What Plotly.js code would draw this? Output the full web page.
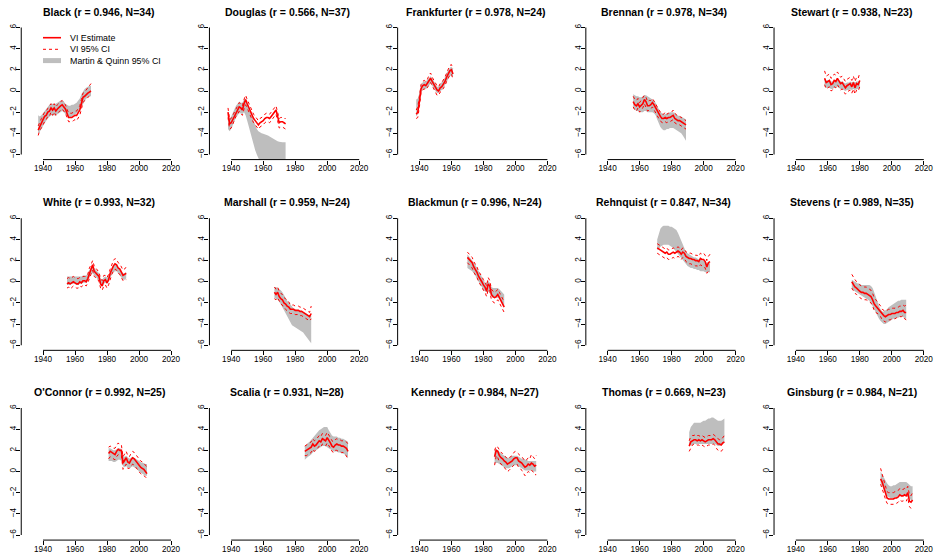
<!DOCTYPE html>
<html><head><meta charset="utf-8">
<script src="https://cdn.plot.ly/plotly-3.0.1.min.js"></script>
<style>html,body{margin:0;padding:0;background:#fff}#chart{width:935px;height:553px}</style>
</head><body><div id="chart"></div>
<script>
// ---------- data ----------
const justiceNames = ['Black','Douglas','Frankfurter','Brennan','Stewart','White','Marshall','Blackmun','Rehnquist','Stevens',"O'Connor",'Scalia','Kennedy','Thomas','Ginsburg'];
const rValues = [0.946,0.566,0.978,0.978,0.938,0.993,0.959,0.996,0.847,0.989,0.992,0.931,0.984,0.669,0.984];
const nTerms = [34,37,24,34,23,32,24,24,34,35,25,28,27,23,21];
const firstYears = [1937,1938,1938,1956,1958,1955,1967,1970,1971,1975,1981,1986,1987,1991,1993];
const xTickVals = [1940,1960,1980,2000,2020];
const yTickVals = [-6,-4,-2,0,2,4,6];

const blackEst = [-3.7,-3.3,-3.0,-2.7,-2.4,-2.3,-2.0,-1.9,-1.6,-1.8,-1.6,-1.9,-1.7,-1.5,-1.4,-1.3,-1.5,-1.7,-2.1,-2.5,-2.5,-2.5,-2.4,-2.3,-2.3,-2.1,-1.8,-1.2,-0.6,-0.5,-0.3,-0.2,-0.1,0.0];
const blackLo = [-4.2,-3.7,-3.5,-3.1,-2.9,-2.7,-2.4,-2.4,-2.0,-2.3,-2.0,-2.3,-2.1,-1.9,-1.8,-1.7,-1.9,-2.1,-2.5,-2.9,-2.9,-2.9,-2.8,-2.7,-2.8,-2.6,-2.3,-1.7,-1.1,-0.9,-0.7,-0.6,-0.5,-0.4];
const blackHi = [-3.3,-2.9,-2.6,-2.3,-2.0,-1.9,-1.6,-1.4,-1.2,-1.4,-1.2,-1.5,-1.3,-1.1,-1.0,-0.9,-1.1,-1.3,-1.7,-2.1,-2.1,-2.1,-2.0,-1.9,-1.9,-1.7,-1.4,-0.8,-0.2,-0.1,0.1,0.3,0.4,0.7];
const blackMqLo = [-4.1,-3.9,-3.6,-3.3,-3.0,-2.8,-2.6,-2.4,-2.3,-2.3,-2.3,-2.3,-2.2,-2.1,-2.0,-1.9,-2.0,-2.2,-2.4,-2.5,-2.5,-2.4,-2.3,-2.2,-2.1,-2.0,-1.8,-1.5,-1.2,-0.9,-0.7,-0.6,-0.5,-0.5];
const blackMqHi = [-2.3,-2.4,-2.3,-2.1,-1.8,-1.6,-1.4,-1.3,-1.2,-1.2,-1.2,-1.2,-1.1,-1.0,-0.9,-0.9,-1.0,-1.2,-1.3,-1.4,-1.4,-1.3,-1.3,-1.2,-1.1,-0.9,-0.7,-0.3,0.0,0.2,0.3,0.4,0.5,0.5];

const douglasEst = [-2.0,-3.1,-3.0,-2.7,-2.3,-2.0,-1.8,-1.5,-1.6,-1.8,-1.2,-0.8,-1.2,-1.6,-2.0,-2.3,-2.6,-2.8,-3.0,-3.2,-3.0,-2.9,-2.8,-2.6,-2.5,-2.5,-2.6,-2.4,-2.2,-1.9,-1.8,-2.4,-3.0,-2.9,-2.9,-3.0,-3.1];
const douglasLo = [-2.5,-3.6,-3.5,-3.1,-2.7,-2.4,-2.2,-1.9,-2.1,-2.3,-1.7,-1.3,-1.6,-2.0,-2.4,-2.7,-3.0,-3.2,-3.4,-3.6,-3.4,-3.3,-3.2,-3.0,-2.9,-2.9,-3.0,-2.8,-2.6,-2.3,-2.2,-2.8,-3.5,-3.4,-3.4,-3.5,-3.6];
const douglasHi = [-1.6,-2.7,-2.6,-2.3,-1.9,-1.6,-1.4,-1.1,-1.2,-1.4,-0.8,-0.4,-0.8,-1.2,-1.6,-1.9,-2.2,-2.4,-2.6,-2.8,-2.6,-2.5,-2.4,-2.2,-2.1,-2.1,-2.2,-2.0,-1.8,-1.5,-1.4,-2.0,-2.6,-2.5,-2.5,-2.6,-2.6];
const douglasMqLo = [-3.6,-3.8,-3.6,-3.2,-2.8,-2.5,-2.3,-2.1,-2.1,-2.2,-2.0,-2.3,-2.8,-3.4,-4.0,-4.6,-5.1,-5.6,-6.0,-6.4,-6.8,-7.2,-7.5,-7.7,-7.8,-7.9,-8.0,-8.0,-8.0,-8.0,-8.0,-8.0,-8.0,-8.0,-8.0,-8.0,-8.0];
const douglasMqHi = [-2.3,-2.6,-2.4,-2.0,-1.7,-1.4,-1.2,-1.0,-1.1,-1.1,-0.8,-0.7,-1.2,-1.6,-2.0,-2.5,-2.9,-3.3,-3.6,-3.8,-3.95,-4.0,-4.05,-4.1,-4.1,-4.2,-4.3,-4.4,-4.5,-4.6,-4.7,-4.75,-4.8,-4.85,-4.85,-4.85,-4.85];

const frankfurterEst = [-2.2,-2.0,-1.0,0.2,0.5,0.6,0.5,0.7,1.0,1.2,0.9,0.6,0.3,0.1,0.0,0.3,0.4,0.6,0.9,1.3,1.6,1.9,2.0,1.6];
const frankfurterLo = [-2.6,-2.5,-1.5,-0.2,0.1,0.2,0.1,0.3,0.6,0.8,0.5,0.2,-0.2,-0.4,-0.4,-0.1,0.0,0.2,0.5,0.9,1.2,1.5,1.6,1.1];
const frankfurterHi = [-1.8,-1.5,-0.5,0.6,0.9,1.0,0.9,1.1,1.5,1.7,1.3,1.0,0.7,0.5,0.4,0.7,0.8,1.0,1.3,1.7,2.0,2.4,2.5,2.1];
const frankfurterMqLo = [-2.4,-2.2,-1.3,-0.2,0.1,0.2,0.2,0.4,0.6,0.7,0.5,0.2,0.0,-0.2,-0.2,0.0,0.1,0.3,0.6,0.9,1.2,1.4,1.5,1.3];
const frankfurterMqHi = [-0.8,-0.7,-0.2,0.6,0.8,0.9,0.9,1.1,1.3,1.4,1.2,0.9,0.6,0.4,0.4,0.6,0.8,1.0,1.3,1.7,2.0,2.2,2.3,2.1];

const brennanEst = [-1.0,-1.3,-1.4,-1.2,-1.5,-1.3,-1.2,-0.8,-1.0,-1.4,-1.4,-1.3,-1.1,-1.3,-1.6,-1.9,-2.2,-2.4,-2.6,-2.6,-2.5,-2.6,-2.5,-2.5,-2.4,-2.3,-2.6,-2.7,-2.8,-2.8,-2.9,-3.0,-3.1,-3.2];
const brennanLo = [-1.5,-1.8,-1.9,-1.6,-2.0,-1.8,-1.6,-1.2,-1.5,-1.9,-1.8,-1.7,-1.5,-1.8,-2.0,-2.3,-2.6,-2.8,-3.0,-3.0,-2.9,-3.0,-2.9,-2.9,-2.8,-2.7,-3.0,-3.1,-3.2,-3.2,-3.3,-3.4,-3.5,-3.6];
const brennanHi = [-0.5,-0.8,-0.9,-0.7,-1.1,-0.9,-0.7,-0.4,-0.6,-1.0,-0.9,-0.9,-0.7,-0.9,-1.2,-1.5,-1.8,-2.0,-2.2,-2.2,-2.0,-2.2,-2.1,-2.1,-2.0,-1.8,-2.1,-2.3,-2.4,-2.4,-2.5,-2.6,-2.7,-2.8];
const brennanMqLo = [-1.6,-1.8,-1.9,-1.9,-2.0,-2.0,-2.0,-1.9,-1.9,-2.0,-2.0,-2.0,-2.0,-2.1,-2.3,-2.7,-3.1,-3.4,-3.6,-3.7,-3.7,-3.6,-3.6,-3.5,-3.5,-3.5,-3.6,-3.7,-3.8,-3.9,-4.0,-4.2,-4.5,-4.7];
const brennanMqHi = [-0.3,-0.4,-0.5,-0.5,-0.6,-0.6,-0.5,-0.4,-0.4,-0.5,-0.6,-0.7,-0.8,-0.9,-1.1,-1.4,-1.7,-2.0,-2.1,-2.2,-2.2,-2.1,-2.1,-2.0,-2.0,-2.0,-2.1,-2.2,-2.3,-2.4,-2.4,-2.5,-2.6,-2.7];

const stewartEst = [1.2,0.8,0.9,1.0,0.6,0.7,1.0,0.9,1.2,0.9,0.7,0.8,0.6,0.3,0.5,0.6,0.7,0.4,0.8,0.3,0.7,0.6,1.0];
const stewartLo = [0.6,0.2,0.3,0.4,0.0,0.1,0.4,0.3,0.6,0.3,0.1,0.2,0.0,-0.3,-0.1,0.0,0.1,-0.2,0.2,-0.3,0.1,0.0,0.4];
const stewartHi = [1.9,1.4,1.5,1.6,1.2,1.3,1.6,1.5,1.8,1.5,1.3,1.4,1.2,0.9,1.1,1.2,1.3,1.0,1.4,0.9,1.3,1.2,1.7];
const stewartMqLo = [0.4,0.3,0.3,0.3,0.2,0.2,0.3,0.3,0.4,0.3,0.2,0.2,0.1,0.0,0.1,0.1,0.2,0.1,0.2,0.1,0.2,0.2,0.3];
const stewartMqHi = [1.2,1.0,1.0,1.0,0.9,0.9,1.0,1.0,1.1,1.0,0.9,0.9,0.8,0.7,0.8,0.8,0.9,0.8,0.9,0.8,0.9,0.9,1.0];

const whiteEst = [-0.2,-0.1,-0.2,-0.1,0.0,-0.1,-0.2,-0.2,0.0,-0.1,0.1,0.1,0.0,0.3,0.8,1.2,1.6,1.0,0.8,0.7,0.5,-0.2,-0.4,0.1,0.2,-0.1,0.2,0.8,1.2,1.5,1.7,1.6,1.3,1.2,0.9,0.6,0.7,0.8];
const whiteLo = [-0.6,-0.5,-0.7,-0.5,-0.4,-0.5,-0.6,-0.6,-0.4,-0.5,-0.3,-0.3,-0.4,-0.1,0.3,0.7,1.1,0.5,0.4,0.3,0.0,-0.6,-0.8,-0.4,-0.3,-0.6,-0.3,0.3,0.7,1.0,1.2,1.1,0.8,0.7,0.4,0.1,0.2,0.2];
const whiteHi = [0.3,0.4,0.3,0.4,0.5,0.4,0.3,0.3,0.4,0.4,0.5,0.5,0.5,0.7,1.3,1.6,2.0,1.5,1.3,1.2,0.9,0.3,0.1,0.6,0.6,0.4,0.7,1.2,1.6,2.0,2.2,2.1,1.8,1.7,1.4,1.1,1.2,1.4];
const whiteMqLo = [-0.3,-0.3,-0.3,-0.2,-0.2,-0.2,-0.3,-0.3,-0.2,-0.2,-0.1,-0.1,-0.1,0.1,0.4,0.7,0.8,0.6,0.4,0.3,0.1,-0.3,-0.4,-0.2,-0.1,-0.2,0.0,0.4,0.7,0.9,1.0,1.0,0.8,0.6,0.4,0.2,0.2,0.3];
const whiteMqHi = [0.5,0.5,0.5,0.5,0.5,0.5,0.5,0.5,0.5,0.5,0.6,0.6,0.6,0.8,1.1,1.4,1.5,1.3,1.1,1.0,0.8,0.3,0.2,0.4,0.5,0.4,0.6,1.0,1.3,1.5,1.6,1.6,1.4,1.2,1.0,0.8,0.8,0.9];

const marshallEst = [-1.0,-1.2,-1.0,-1.4,-1.6,-1.7,-2.0,-2.1,-2.3,-2.4,-2.6,-2.6,-2.6,-2.7,-2.7,-2.7,-2.8,-2.8,-2.9,-3.0,-3.1,-3.2,-3.3,-3.0];
const marshallLo = [-1.6,-1.7,-1.5,-1.9,-2.1,-2.2,-2.5,-2.6,-2.8,-2.9,-3.0,-3.0,-3.0,-3.1,-3.1,-3.1,-3.2,-3.2,-3.3,-3.4,-3.5,-3.6,-3.7,-3.5];
const marshallHi = [-0.5,-0.7,-0.5,-0.9,-1.1,-1.2,-1.5,-1.6,-1.8,-1.9,-2.2,-2.2,-2.2,-2.3,-2.3,-2.3,-2.4,-2.4,-2.5,-2.6,-2.7,-2.8,-2.9,-2.3];
const marshallMqLo = [-1.5,-1.6,-1.7,-1.9,-2.1,-2.4,-2.7,-3.0,-3.3,-3.6,-3.9,-4.1,-4.2,-4.3,-4.4,-4.5,-4.6,-4.7,-4.8,-5.0,-5.2,-5.5,-5.7,-5.8];
const marshallMqHi = [-0.5,-0.5,-0.6,-0.7,-0.8,-1.0,-1.2,-1.5,-1.8,-2.0,-2.2,-2.4,-2.5,-2.6,-2.7,-2.7,-2.8,-2.8,-2.9,-2.9,-3.0,-3.1,-3.2,-3.2];

const blackmunEst = [2.3,2.1,2.0,1.8,1.4,1.2,0.9,0.5,0.3,0.0,-0.3,-0.5,-0.9,-0.2,-0.4,-1.2,-1.4,-1.5,-1.4,-1.2,-1.5,-1.8,-2.1,-2.4];
const blackmunLo = [1.8,1.6,1.5,1.3,0.9,0.7,0.4,0.0,-0.2,-0.5,-0.8,-1.0,-1.4,-0.7,-0.9,-1.7,-1.9,-2.0,-1.9,-1.7,-2.0,-2.3,-2.6,-2.9];
const blackmunHi = [2.8,2.6,2.5,2.3,1.9,1.7,1.4,1.0,0.8,0.5,0.2,0.0,-0.4,0.4,0.1,-0.7,-0.9,-1.0,-0.9,-0.7,-1.0,-1.3,-1.6,-1.9];
const blackmunMqLo = [1.3,1.2,1.1,1.0,0.8,0.6,0.3,0.0,-0.2,-0.5,-0.8,-0.9,-1.0,-0.9,-1.1,-1.4,-1.5,-1.5,-1.5,-1.5,-1.6,-1.8,-2.0,-2.3];
const blackmunMqHi = [2.6,2.4,2.3,2.1,1.8,1.6,1.3,1.0,0.7,0.4,0.1,-0.1,-0.1,0.1,-0.1,-0.5,-0.6,-0.6,-0.6,-0.6,-0.7,-0.9,-1.1,-1.2];

const rehnquistEst = [3.2,3.1,3.0,2.9,2.8,2.7,2.8,2.6,2.6,2.7,2.8,2.7,2.8,2.9,2.8,2.6,2.8,2.7,2.4,2.3,2.2,2.2,2.1,2.1,2.0,2.0,1.9,2.2,2.1,2.1,1.9,1.4,1.8,1.9];
const rehnquistLo = [2.7,2.6,2.5,2.4,2.3,2.2,2.3,2.1,2.1,2.2,2.3,2.2,2.3,2.4,2.3,2.1,2.3,2.2,1.9,1.8,1.7,1.7,1.6,1.6,1.5,1.5,1.4,1.6,1.5,1.5,1.3,0.8,1.0,0.9];
const rehnquistHi = [3.6,3.5,3.4,3.3,3.2,3.1,3.2,3.0,3.0,3.1,3.2,3.1,3.2,3.3,3.2,3.0,3.2,3.1,2.8,2.8,2.7,2.7,2.6,2.6,2.5,2.5,2.4,2.7,2.6,2.7,2.5,2.0,2.4,2.6];
const rehnquistMqLo = [3.0,3.1,3.3,3.4,3.5,3.5,3.5,3.5,3.4,3.3,3.2,3.0,2.8,2.6,2.4,2.3,2.1,1.9,1.7,1.5,1.4,1.3,1.3,1.2,1.2,1.1,1.1,1.0,1.0,1.0,0.9,0.9,0.9,0.9];
const rehnquistMqHi = [4.0,4.6,5.0,5.2,5.3,5.3,5.3,5.3,5.2,5.2,5.1,5.0,4.9,4.6,4.2,3.8,3.4,3.0,2.8,2.7,2.6,2.5,2.4,2.3,2.3,2.2,2.1,2.1,2.0,2.0,1.9,1.8,1.8,1.8];

const stevensEst = [0.0,-0.3,-0.5,-0.6,-0.8,-0.9,-1.0,-1.0,-1.1,-1.1,-1.2,-1.3,-1.4,-1.7,-2.1,-2.3,-2.5,-2.6,-2.8,-3.1,-3.2,-3.3,-3.2,-3.1,-3.1,-3.0,-3.0,-3.0,-2.9,-2.9,-2.8,-2.8,-2.7,-2.9,-2.9];
const stevensLo = [-0.6,-0.9,-1.1,-1.2,-1.4,-1.5,-1.6,-1.6,-1.7,-1.7,-1.8,-1.9,-2.0,-2.3,-2.7,-2.9,-3.0,-3.1,-3.3,-3.6,-3.7,-3.8,-3.7,-3.6,-3.6,-3.5,-3.5,-3.5,-3.4,-3.4,-3.3,-3.3,-3.2,-3.5,-3.6];
const stevensHi = [0.7,0.4,0.2,0.0,-0.2,-0.3,-0.4,-0.4,-0.5,-0.5,-0.6,-0.7,-0.8,-1.1,-1.5,-1.7,-1.9,-2.0,-2.3,-2.6,-2.7,-2.8,-2.7,-2.6,-2.6,-2.5,-2.5,-2.5,-2.4,-2.4,-2.3,-2.3,-2.2,-2.3,-2.2];
const stevensMqLo = [-0.7,-0.8,-0.9,-1.0,-1.1,-1.2,-1.3,-1.4,-1.5,-1.6,-1.7,-1.8,-2.0,-2.3,-2.7,-3.0,-3.3,-3.5,-3.7,-3.9,-4.0,-4.0,-3.9,-3.8,-3.7,-3.6,-3.5,-3.5,-3.4,-3.4,-3.3,-3.3,-3.3,-3.4,-3.6];
const stevensMqHi = [0.2,0.1,0.0,-0.1,-0.2,-0.2,-0.3,-0.3,-0.3,-0.3,-0.3,-0.3,-0.4,-0.6,-1.0,-1.5,-1.9,-2.3,-2.6,-2.8,-2.8,-2.7,-2.6,-2.4,-2.3,-2.2,-2.1,-2.0,-1.9,-1.8,-1.8,-1.7,-1.7,-1.7,-1.7];

const oconnorEst = [1.7,1.9,1.8,1.7,1.6,1.9,2.1,2.0,2.0,0.8,1.0,1.3,0.9,0.8,1.1,1.3,1.2,1.0,0.8,0.5,0.4,0.3,0.2,0.0,-0.2];
const oconnorLo = [1.2,1.4,1.3,1.2,1.1,1.4,1.6,1.5,1.5,0.2,0.4,0.7,0.3,0.3,0.5,0.7,0.6,0.4,0.2,-0.1,-0.2,-0.3,-0.4,-0.5,-0.7];
const oconnorHi = [2.3,2.4,2.3,2.2,2.2,2.5,2.7,2.5,2.5,1.4,1.6,1.9,1.5,1.4,1.7,1.9,1.8,1.6,1.4,1.1,1.0,0.9,0.8,0.6,0.4];
const oconnorMqLo = [1.0,1.0,1.0,0.9,0.9,1.0,1.1,1.1,1.0,0.5,0.4,0.5,0.4,0.3,0.4,0.5,0.4,0.3,0.2,0.0,-0.1,-0.2,-0.3,-0.4,-0.4];
const oconnorMqHi = [2.2,2.2,2.1,2.0,2.0,2.1,2.2,2.2,2.1,1.5,1.4,1.5,1.3,1.2,1.3,1.4,1.3,1.2,1.1,1.0,0.9,0.8,0.8,0.7,0.7];

const scaliaEst = [1.9,2.0,2.1,2.2,2.3,2.6,2.4,2.5,2.7,2.9,2.8,3.1,3.0,2.9,3.2,3.0,2.7,2.4,2.3,2.5,2.6,2.5,2.5,2.4,2.4,2.3,2.2,1.9];
const scaliaLo = [1.5,1.5,1.6,1.7,1.8,2.1,1.9,2.0,2.2,2.4,2.3,2.6,2.5,2.4,2.7,2.5,2.2,1.9,1.8,2.0,2.0,1.9,1.9,1.8,1.8,1.7,1.5,1.2];
const scaliaHi = [2.4,2.5,2.6,2.7,2.8,3.1,2.9,3.0,3.2,3.4,3.3,3.6,3.5,3.4,3.7,3.5,3.2,2.9,2.8,3.0,3.1,3.0,3.0,2.9,2.9,2.9,2.8,2.6];
const scaliaMqLo = [1.1,1.3,1.4,1.5,1.6,1.8,1.9,2.0,2.1,2.2,2.3,2.4,2.4,2.4,2.3,2.2,2.1,2.0,1.9,1.9,1.9,1.8,1.8,1.7,1.7,1.6,1.5,1.3];
const scaliaMqHi = [2.4,2.6,2.7,2.8,3.0,3.2,3.3,3.5,3.7,3.9,4.0,4.1,4.2,4.2,4.2,3.9,3.6,3.4,3.3,3.3,3.3,3.2,3.2,3.1,3.1,3.0,2.9,2.8];

const kennedyEst = [1.4,2.0,1.9,1.5,1.3,1.2,1.0,0.9,0.7,0.8,0.9,1.0,1.2,1.3,1.3,1.0,0.9,0.8,0.6,0.4,0.5,0.7,0.6,0.8,0.7,0.5,0.6];
const kennedyLo = [0.6,1.5,1.3,0.9,0.7,0.6,0.4,0.2,0.0,0.1,0.3,0.4,0.6,0.7,0.7,0.4,0.3,0.1,-0.1,-0.4,-0.2,0.0,-0.1,0.1,0.0,-0.3,-0.3];
const kennedyHi = [2.0,2.4,2.3,2.0,1.8,1.7,1.5,1.4,1.2,1.3,1.4,1.5,1.8,1.9,1.8,1.6,1.5,1.4,1.2,1.0,1.1,1.3,1.2,1.6,1.4,1.2,1.5];
const kennedyMqLo = [0.7,0.8,0.8,0.7,0.6,0.5,0.4,0.3,0.3,0.3,0.4,0.5,0.6,0.6,0.6,0.5,0.4,0.3,0.2,0.1,0.1,0.1,0.1,0.1,0.0,0.0,0.0];
const kennedyMqHi = [2.0,2.1,2.0,1.8,1.7,1.6,1.5,1.4,1.3,1.3,1.4,1.5,1.5,1.5,1.5,1.4,1.3,1.2,1.2,1.1,1.1,1.0,1.0,1.0,1.0,1.0,1.0];

const thomasEst = [2.4,2.8,2.9,3.0,3.0,2.9,3.0,2.9,3.0,2.9,2.8,2.9,3.0,3.0,3.0,3.1,3.0,2.8,2.6,2.6,2.5,2.7,2.8];
const thomasLo = [1.9,2.3,2.5,2.6,2.6,2.5,2.5,2.4,2.5,2.4,2.3,2.4,2.5,2.5,2.5,2.6,2.5,2.2,2.0,2.0,1.9,2.1,2.2];
const thomasHi = [2.9,3.3,3.4,3.4,3.5,3.4,3.4,3.3,3.4,3.3,3.2,3.3,3.4,3.4,3.4,3.5,3.4,3.2,3.1,3.0,3.0,3.2,3.4];
const thomasMqLo = [2.4,2.5,2.5,2.6,2.6,2.6,2.6,2.6,2.6,2.6,2.6,2.6,2.6,2.6,2.6,2.6,2.6,2.5,2.4,2.4,2.5,2.6,2.7];
const thomasMqHi = [3.7,4.2,4.4,4.6,4.6,4.6,4.6,4.6,4.7,4.8,4.8,4.9,5.0,5.0,5.1,5.1,5.0,4.9,4.8,4.8,4.8,4.9,5.0];

const ginsburgEst = [-0.7,-1.0,-1.5,-2.0,-2.5,-2.6,-2.6,-2.6,-2.6,-2.5,-2.5,-2.4,-2.2,-2.3,-2.3,-2.2,-2.3,-2.0,-2.8,-2.9,-2.7];
const ginsburgLo = [-1.2,-1.6,-2.1,-2.6,-3.0,-3.1,-3.1,-3.1,-3.1,-3.0,-3.0,-2.9,-2.7,-2.8,-2.8,-2.7,-2.8,-2.5,-3.3,-3.5,-3.3];
const ginsburgHi = [0.3,-0.2,-0.8,-1.3,-1.9,-2.0,-2.0,-2.0,-2.0,-1.9,-1.9,-1.8,-1.6,-1.7,-1.7,-1.6,-1.7,-1.4,-2.2,-2.3,-2.0];
const ginsburgMqLo = [-1.1,-1.4,-1.8,-2.1,-2.3,-2.4,-2.5,-2.5,-2.5,-2.4,-2.4,-2.3,-2.3,-2.3,-2.3,-2.3,-2.3,-2.4,-2.6,-2.7,-2.8];
const ginsburgMqHi = [0.0,-0.3,-0.6,-0.9,-1.1,-1.3,-1.4,-1.4,-1.3,-1.3,-1.2,-1.1,-1.0,-1.0,-1.0,-1.0,-1.0,-1.1,-1.3,-1.4,-1.4];

const legendLabels = ['VI Estimate','VI 95% CI','Martin & Quinn 95% CI'];

// ---------- assemble ----------
const seriesByJustice = [
  [blackEst,blackLo,blackHi,blackMqLo,blackMqHi],
  [douglasEst,douglasLo,douglasHi,douglasMqLo,douglasMqHi],
  [frankfurterEst,frankfurterLo,frankfurterHi,frankfurterMqLo,frankfurterMqHi],
  [brennanEst,brennanLo,brennanHi,brennanMqLo,brennanMqHi],
  [stewartEst,stewartLo,stewartHi,stewartMqLo,stewartMqHi],
  [whiteEst,whiteLo,whiteHi,whiteMqLo,whiteMqHi],
  [marshallEst,marshallLo,marshallHi,marshallMqLo,marshallMqHi],
  [blackmunEst,blackmunLo,blackmunHi,blackmunMqLo,blackmunMqHi],
  [rehnquistEst,rehnquistLo,rehnquistHi,rehnquistMqLo,rehnquistMqHi],
  [stevensEst,stevensLo,stevensHi,stevensMqLo,stevensMqHi],
  [oconnorEst,oconnorLo,oconnorHi,oconnorMqLo,oconnorMqHi],
  [scaliaEst,scaliaLo,scaliaHi,scaliaMqLo,scaliaMqHi],
  [kennedyEst,kennedyLo,kennedyHi,kennedyMqLo,kennedyMqHi],
  [thomasEst,thomasLo,thomasHi,thomasMqLo,thomasMqHi],
  [ginsburgEst,ginsburgLo,ginsburgHi,ginsburgMqLo,ginsburgMqHi]
];

const W = 935, H = 553;
const X_RANGE = [1926.4, 2023.6];
const Y_RANGE = [-6.48, 6.48];
const PX_PER_YEAR = 1.6;
const PX_PER_UNIT = 127 / 12;
const FONT = 'Liberation Sans, Arial, Helvetica, sans-serif';
const RED = '#FF0000', GRAY = '#BEBEBE';

const traces = [];
const layout = {
  width: W, height: H, margin: {l:0, r:0, t:0, b:0},
  paper_bgcolor: '#fff', plot_bgcolor: 'rgba(0,0,0,0)',
  showlegend: false, shapes: [], annotations: [],
  font: {family: FONT, color: '#000'}
};

function geom(i) {
  const c = i % 5, r = Math.floor(i / 5);
  const x1940 = 43 + 188.2 * c;
  const y6 = 27.5 + 190.75 * r - (r === 2 ? 1 : 0);
  const xPx = v => x1940 + (v - 1940) * PX_PER_YEAR;
  const yPx = v => y6 + (6 - v) * PX_PER_UNIT;
  return {xPx, yPx};
}

justiceNames.forEach((name, i) => {
  const g = geom(i);
  const sfx = i === 0 ? '' : String(i + 1);
  const xa = 'x' + sfx, ya = 'y' + sfx;
  const [est, lo, hi, mqLo, mqHi] = seriesByJustice[i];
  const years = est.map((_, k) => firstYears[i] + k);

  traces.push({x: years, y: mqLo, xaxis: xa, yaxis: ya, mode: 'lines', line: {width: 0, color: GRAY}, hoverinfo: 'skip'});
  traces.push({x: years, y: mqHi, xaxis: xa, yaxis: ya, mode: 'lines', line: {width: 0, color: GRAY}, fill: 'tonexty', fillcolor: GRAY, hoverinfo: 'skip'});
  traces.push({x: years, y: lo, xaxis: xa, yaxis: ya, mode: 'lines', line: {width: 1, color: RED, dash: '3px,3px'}});
  traces.push({x: years, y: hi, xaxis: xa, yaxis: ya, mode: 'lines', line: {width: 1, color: RED, dash: '3px,3px'}});
  traces.push({x: years, y: est, xaxis: xa, yaxis: ya, mode: 'lines', line: {width: 1.6, color: RED}});

  const left = g.xPx(X_RANGE[0]), right = g.xPx(X_RANGE[1]);
  const top = g.yPx(Y_RANGE[1]), bottom = g.yPx(Y_RANGE[0]);
  const axName = i === 0 ? '' : String(i + 1);
  layout['xaxis' + axName] = {
    domain: [left / W, right / W], range: X_RANGE, anchor: ya,
    tickvals: xTickVals, ticks: 'outside', ticklen: 4, tickwidth: 1, tickcolor: '#000',
    ticklabelstandoff: -3,
    showline: false, showgrid: false, zeroline: false, fixedrange: true,
    tickfont: {family: FONT, size: 8.2, color: '#000'}
  };
  layout['yaxis' + axName] = {
    domain: [1 - bottom / H, 1 - top / H], range: Y_RANGE, anchor: xa,
    tickvals: yTickVals, ticks: 'outside', ticklen: 4, tickwidth: 1, tickcolor: '#000',
    ticklabelstandoff: -3,
    tickangle: -90, showline: false, showgrid: false, zeroline: false, fixedrange: true,
    tickfont: {family: FONT, size: 8.2, color: '#000'}
  };
  layout.shapes.push({type: 'line', xref: 'paper', yref: 'paper',
    x0: left / W, x1: left / W,
    y0: 1 - g.yPx(yTickVals[0]) / H, y1: 1 - g.yPx(yTickVals[yTickVals.length - 1]) / H,
    line: {color: '#000', width: 1}});
  layout.shapes.push({type: 'line', xref: 'paper', yref: 'paper',
    x0: g.xPx(xTickVals[0]) / W, x1: g.xPx(xTickVals[xTickVals.length - 1]) / W,
    y0: 1 - bottom / H, y1: 1 - bottom / H,
    line: {color: '#000', width: 1}});
  layout.annotations.push({
    xref: 'paper', yref: 'paper', x: (left + right) / 2 / W, y: 1 - (g.yPx(6) - 16) / H,
    xanchor: 'center', yanchor: 'middle', showarrow: false,
    text: '<b>' + name + ' (r = ' + rValues[i].toFixed(3) + ', N=' + nTerms[i] + ')</b>',
    font: {family: FONT, size: 10.5, color: '#000'}
  });
});

// legend (inside first panel)
const legRows = [37.7, 49.3, 60.6];
const legKeyX = [43, 61], legTextX = 67.5;
const legStyles = [
  {color: RED, width: 1.6},
  {color: RED, width: 1, dash: '3px,3px'},
  {color: GRAY, width: 5}
];
legendLabels.forEach((lab, k) => {
  layout.shapes.push({type: 'line', xref: 'paper', yref: 'paper',
    x0: legKeyX[0] / W, x1: legKeyX[1] / W, y0: 1 - legRows[k] / H, y1: 1 - legRows[k] / H,
    line: legStyles[k]});
  layout.annotations.push({xref: 'paper', yref: 'paper', x: legTextX / W, y: 1 - legRows[k] / H,
    xanchor: 'left', yanchor: 'middle', showarrow: false, text: lab,
    font: {family: FONT, size: 8.9, color: '#000'}});
});

Plotly.newPlot('chart', traces, layout, {staticPlot: true, displayModeBar: false});
</script>
</body></html>
